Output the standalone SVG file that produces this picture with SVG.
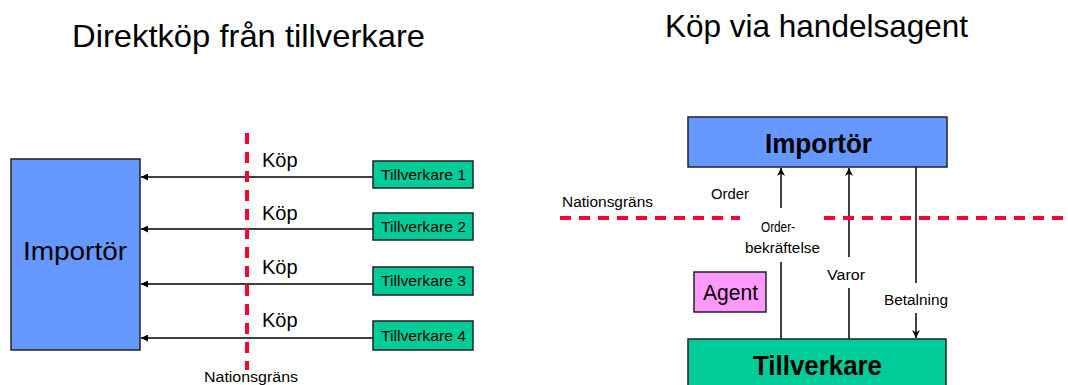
<svg xmlns="http://www.w3.org/2000/svg" width="1068" height="385" viewBox="0 0 1068 385">
<defs>
<style>
text{font-family:"Liberation Sans",Arial,sans-serif;fill:#000}
.title{font-size:32px}
.box{stroke:#222;stroke-width:1.5}
.blue{fill:#6699FF}
.green{fill:#00CC99}
.pink{fill:#FF99FF}
.conn{stroke:#000;stroke-width:1.5;fill:none}
.border{stroke:#FF0033;stroke-width:4;fill:none;stroke-dasharray:11 8}
.small{font-size:14px}
.tv{font-size:15px}
.koep{font-size:20px}
</style>
<marker id="arr" viewBox="0 0 10 10" refX="10" refY="5" markerWidth="7" markerHeight="7" markerUnits="userSpaceOnUse" orient="auto">
<path d="M0,0 L10,5 L0,10 Z" fill="#000"/>
</marker>
<marker id="arr2" viewBox="0 0 10 10" refX="10" refY="5" markerWidth="9" markerHeight="8" markerUnits="userSpaceOnUse" orient="auto">
<path d="M0,0 L10,5 L0,10 L3,5 Z" fill="#000"/>
</marker>
</defs>
<rect width="1068" height="385" fill="#fff"/>

<text class="title" x="72" y="47" textLength="353" lengthAdjust="spacingAndGlyphs">Direktköp från tillverkare</text>
<text class="title" x="665" y="37" textLength="303" lengthAdjust="spacingAndGlyphs">Köp via handelsagent</text>

<g id="connectors">
<line class="conn" x1="373" y1="177" x2="141" y2="177" marker-end="url(#arr)"/>
<line class="conn" x1="373" y1="229" x2="141" y2="229" marker-end="url(#arr)"/>
<line class="conn" x1="373" y1="284" x2="141" y2="284" marker-end="url(#arr)"/>
<line class="conn" x1="373" y1="338" x2="141" y2="338" marker-end="url(#arr)"/>
<line class="conn" x1="781" y1="208" x2="781" y2="168" marker-end="url(#arr2)"/>
<line class="conn" x1="781" y1="339" x2="781" y2="262"/>
<line class="conn" x1="849" y1="257" x2="849" y2="168" marker-end="url(#arr2)"/>
<line class="conn" x1="849" y1="339" x2="849" y2="288"/>
<line class="conn" x1="916" y1="167" x2="916" y2="283"/>
<line class="conn" x1="916" y1="313" x2="916" y2="338" marker-end="url(#arr2)"/>
</g>

<g id="borders">
<line class="border" x1="247" y1="133" x2="247" y2="370"/>
<line class="border" x1="560" y1="218" x2="740" y2="218"/>
<line class="border" x1="824" y1="218" x2="1068" y2="218"/>
</g>

<g id="importor-left">
<rect class="box blue" x="11" y="159" width="129" height="191"/>
<text x="23" y="260" font-size="26" textLength="104" lengthAdjust="spacingAndGlyphs">Importör</text>
</g>
<g id="tillverkare1">
<rect class="box green" x="373" y="161" width="100" height="27"/>
<text class="tv" x="381" y="180" textLength="85" lengthAdjust="spacingAndGlyphs">Tillverkare 1</text>
</g>
<g id="tillverkare2">
<rect class="box green" x="373" y="213" width="100" height="27"/>
<text class="tv" x="381" y="232" textLength="85" lengthAdjust="spacingAndGlyphs">Tillverkare 2</text>
</g>
<g id="tillverkare3">
<rect class="box green" x="373" y="267" width="100" height="28"/>
<text class="tv" x="381" y="286" textLength="85" lengthAdjust="spacingAndGlyphs">Tillverkare 3</text>
</g>
<g id="tillverkare4">
<rect class="box green" x="373" y="321" width="100" height="29"/>
<text class="tv" x="381" y="341" textLength="85" lengthAdjust="spacingAndGlyphs">Tillverkare 4</text>
</g>
<g id="labels-left">
<text class="koep" x="262" y="167">Köp</text>
<text class="koep" x="262" y="220">Köp</text>
<text class="koep" x="262" y="274">Köp</text>
<text class="koep" x="262" y="327">Köp</text>
<text class="small" x="204" y="382" textLength="94" lengthAdjust="spacingAndGlyphs">Nationsgräns</text>
</g>

<g id="importor-right">
<rect class="box blue" x="688" y="117" width="259" height="50"/>
<text x="765" y="153" font-size="28" font-weight="bold" textLength="107" lengthAdjust="spacingAndGlyphs">Importör</text>
</g>
<g id="tillverkare-right">
<rect class="box green" x="688" y="339" width="258" height="60"/>
<text x="753" y="375" font-size="28" font-weight="bold" textLength="129" lengthAdjust="spacingAndGlyphs">Tillverkare</text>
</g>
<g id="agent">
<rect class="box pink" x="694" y="272" width="72" height="40"/>
<text x="703" y="300" font-size="22" textLength="55" lengthAdjust="spacingAndGlyphs">Agent</text>
</g>
<g id="labels-right">
<text class="small" x="562" y="207" textLength="91" lengthAdjust="spacingAndGlyphs">Nationsgräns</text>
<text class="small" x="711" y="199" textLength="38" lengthAdjust="spacingAndGlyphs">Order</text>
<text class="small" x="761" y="232" textLength="34" lengthAdjust="spacingAndGlyphs">Order-</text>
<text class="small" x="745" y="253" textLength="75" lengthAdjust="spacingAndGlyphs">bekräftelse</text>
<text class="small" x="827" y="280" textLength="38" lengthAdjust="spacingAndGlyphs">Varor</text>
<text class="small" x="884" y="305" textLength="64" lengthAdjust="spacingAndGlyphs">Betalning</text>
</g>
</svg>
